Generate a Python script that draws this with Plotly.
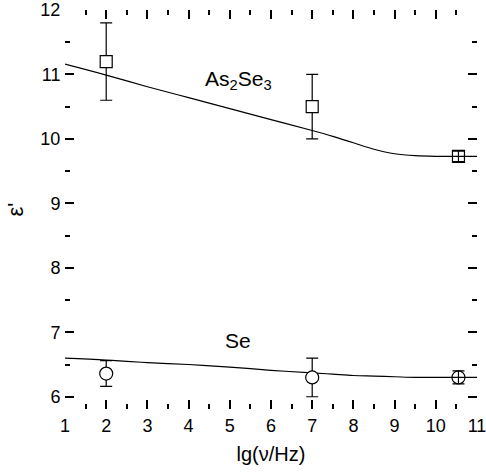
import plotly.graph_objects as go

# Data points (lg(nu/Hz), epsilon')
x_pts = [2, 7, 10.55]
as2se3_y = [11.2, 10.5, 9.73]
as2se3_err = [0.6, 0.5, 0.08]
se_y = [6.36, 6.30, 6.30]
se_err_plus = [0.20, 0.30, 0.10]
se_err_minus = [0.20, 0.30, 0.10]

# Fitted curves
curve_x = [1, 2, 3, 4, 5, 6, 7, 7.5, 8, 8.5, 9, 9.5, 10, 10.5, 11]
as2se3_curve = [11.16, 10.99, 10.81, 10.64, 10.47, 10.30, 10.13, 10.04, 9.94, 9.84, 9.77, 9.74, 9.73, 9.73, 9.73]
se_curve = [6.60, 6.57, 6.53, 6.50, 6.46, 6.41, 6.37, 6.35, 6.33, 6.32, 6.31, 6.30, 6.30, 6.30, 6.30]

fills = ["white", "white", "rgba(0,0,0,0)"]
FONT = "Liberation Sans, Arial, Helvetica"

fig = go.Figure()
fig.add_trace(go.Scatter(x=curve_x, y=as2se3_curve, mode="lines", line=dict(color="black", width=1.2, shape="spline"), showlegend=False))
fig.add_trace(go.Scatter(x=curve_x, y=se_curve, mode="lines", line=dict(color="black", width=1.2, shape="spline"), showlegend=False))
fig.add_trace(go.Scatter(
    x=x_pts, y=as2se3_y, mode="markers",
    marker=dict(symbol="square", size=12, color=fills, line=dict(color="black", width=1.2)),
    error_y=dict(type="data", array=as2se3_err, color="black", thickness=1.2, width=6),
    showlegend=False))
fig.add_trace(go.Scatter(
    x=x_pts, y=se_y, mode="markers",
    marker=dict(symbol="circle", size=13, color=fills, line=dict(color="black", width=1.2)),
    error_y=dict(type="data", array=se_err_plus, arrayminus=se_err_minus, color="black", thickness=1.2, width=6),
    showlegend=False))

fig.add_annotation(x=5.21, y=10.91, text="As<sub>2</sub>Se<sub>3</sub>", showarrow=False,
                   font=dict(size=21, color="black", family=FONT))
fig.add_annotation(x=5.19, y=6.88, text="Se", showarrow=False,
                   font=dict(size=21, color="black", family=FONT))

fig.update_layout(
    width=486, height=472,
    margin=dict(l=65, r=9, t=10, b=63),
    plot_bgcolor="white", paper_bgcolor="white",
)
fig.update_xaxes(range=[1, 11], dtick=1, tick0=1, color="black",
                 showline=True, mirror="ticks", ticks="inside", ticklen=9, tickwidth=2,
                 minor=dict(dtick=0.5, ticks="inside", ticklen=5, tickwidth=2),
                 ticklabeloverflow="allow", automargin=False,
                 tickfont=dict(size=18, family=FONT),
                 title=dict(text="lg(ν/Hz)", font=dict(size=20, family=FONT), standoff=12))
fig.update_yaxes(range=[5.81, 12], dtick=1, tick0=6, color="black",
                 showline=True, mirror="ticks", ticks="inside", ticklen=9, tickwidth=2,
                 minor=dict(dtick=0.5, ticks="inside", ticklen=5, tickwidth=2),
                 automargin=False,
                 tickfont=dict(size=18, family=FONT),
                 title=dict(text="ε'", font=dict(size=22, family=FONT), standoff=10))
fig.write_html("out.html", config={"displayModeBar": False},
               post_script="document.body.style.margin='0';document.body.style.overflow='hidden';")
